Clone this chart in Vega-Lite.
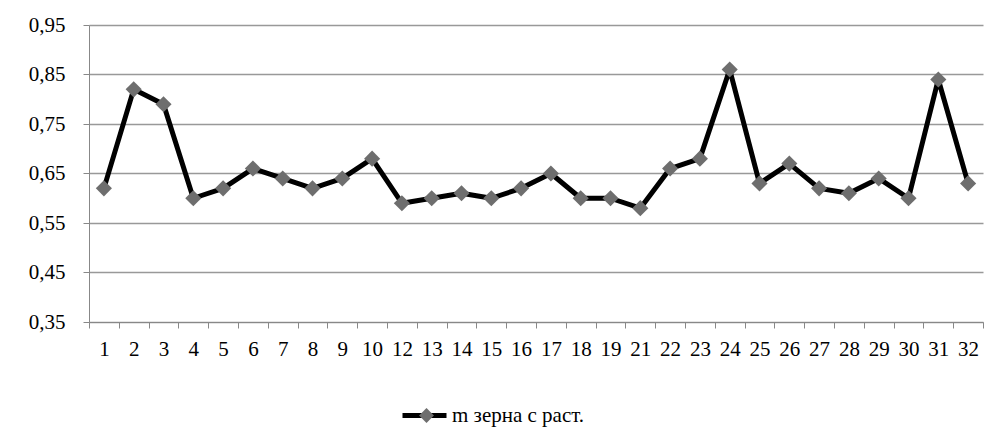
{
  "$schema": "https://vega.github.io/schema/vega-lite/v6.json",
  "autosize": "none",
  "width": 894,
  "height": 297,
  "padding": {"left": 89, "top": 25, "right": 23, "bottom": 125},
  "background": "white",
  "config": {
    "view": {"stroke": null},
    "font": "Liberation Serif",
    "axis": {"labelFont": "Liberation Serif", "labelFontSize": 21, "labelColor": "black", "domainColor": "#888888", "tickColor": "#888888", "gridColor": "#999999", "gridWidth": 1.3},
    "legend": {"labelFont": "Liberation Serif"}
  },
  "data": {
    "values": [
      {"n": "1", "v": 0.62, "s": "m зерна с раст.", "p": "p"},
      {"n": "2", "v": 0.82, "s": "m зерна с раст.", "p": "p"},
      {"n": "3", "v": 0.79, "s": "m зерна с раст.", "p": "p"},
      {"n": "4", "v": 0.60, "s": "m зерна с раст.", "p": "p"},
      {"n": "5", "v": 0.62, "s": "m зерна с раст.", "p": "p"},
      {"n": "6", "v": 0.66, "s": "m зерна с раст.", "p": "p"},
      {"n": "7", "v": 0.64, "s": "m зерна с раст.", "p": "p"},
      {"n": "8", "v": 0.62, "s": "m зерна с раст.", "p": "p"},
      {"n": "9", "v": 0.64, "s": "m зерна с раст.", "p": "p"},
      {"n": "10", "v": 0.68, "s": "m зерна с раст.", "p": "p"},
      {"n": "12", "v": 0.59, "s": "m зерна с раст.", "p": "p"},
      {"n": "13", "v": 0.60, "s": "m зерна с раст.", "p": "p"},
      {"n": "14", "v": 0.61, "s": "m зерна с раст.", "p": "p"},
      {"n": "15", "v": 0.60, "s": "m зерна с раст.", "p": "p"},
      {"n": "16", "v": 0.62, "s": "m зерна с раст.", "p": "p"},
      {"n": "17", "v": 0.65, "s": "m зерна с раст.", "p": "p"},
      {"n": "18", "v": 0.60, "s": "m зерна с раст.", "p": "p"},
      {"n": "19", "v": 0.60, "s": "m зерна с раст.", "p": "p"},
      {"n": "21", "v": 0.58, "s": "m зерна с раст.", "p": "p"},
      {"n": "22", "v": 0.66, "s": "m зерна с раст.", "p": "p"},
      {"n": "23", "v": 0.68, "s": "m зерна с раст.", "p": "p"},
      {"n": "24", "v": 0.86, "s": "m зерна с раст.", "p": "p"},
      {"n": "25", "v": 0.63, "s": "m зерна с раст.", "p": "p"},
      {"n": "26", "v": 0.67, "s": "m зерна с раст.", "p": "p"},
      {"n": "27", "v": 0.62, "s": "m зерна с раст.", "p": "p"},
      {"n": "28", "v": 0.61, "s": "m зерна с раст.", "p": "p"},
      {"n": "29", "v": 0.64, "s": "m зерна с раст.", "p": "p"},
      {"n": "30", "v": 0.60, "s": "m зерна с раст.", "p": "p"},
      {"n": "31", "v": 0.84, "s": "m зерна с раст.", "p": "p"},
      {"n": "32", "v": 0.63, "s": "m зерна с раст.", "p": "p"}
    ]
  },
  "encoding": {
    "x": {
      "field": "n", "type": "ordinal", "sort": null,
      "scale": {"paddingInner": 0, "paddingOuter": 0},
      "axis": {"title": null, "labelAngle": 0, "labelFont": "Liberation Serif", "labelFontSize": 21, "tickBand": "extent", "tickSize": 6, "labelPadding": 10, "grid": false}
    },
    "y": {
      "field": "v", "type": "quantitative",
      "scale": {"domain": [0.35, 0.95], "nice": false, "zero": false},
      "axis": {"title": null, "labelFont": "Liberation Serif", "labelFontSize": 21, "values": [0.35, 0.45, 0.55, 0.65, 0.75, 0.85, 0.95], "labelExpr": "replace(format(datum.value, '.2f'), '.', ',')", "tickSize": 6, "labelPadding": 18, "grid": true}
    }
  },
  "layer": [
    {
      "mark": {"type": "line", "strokeWidth": 5, "strokeJoin": "round"},
      "encoding": {
        "stroke": {
          "field": "s", "type": "nominal",
          "scale": {"range": ["black"]},
          "legend": {"title": null, "orient": "none", "legendX": 311, "legendY": 366, "symbolType": "stroke", "symbolSize": 1936, "symbolStrokeWidth": 5, "labelFont": "Liberation Serif", "labelFontSize": 21, "labelColor": "black", "labelOffset": 3, "padding": 0}
        }
      }
    },
    {
      "mark": {"type": "point", "shape": "diamond", "filled": true, "size": 260, "opacity": 1},
      "encoding": {
        "fill": {
          "field": "p", "type": "nominal",
          "scale": {"range": ["#6e6e6e"]},
          "legend": {"title": null, "orient": "none", "legendX": 330, "legendY": 383, "symbolType": "diamond", "symbolSize": 220, "symbolStrokeWidth": 0, "symbolOpacity": 1, "labelExpr": "''", "labelFontSize": 8, "padding": 0}
        }
      }
    }
  ]
}
